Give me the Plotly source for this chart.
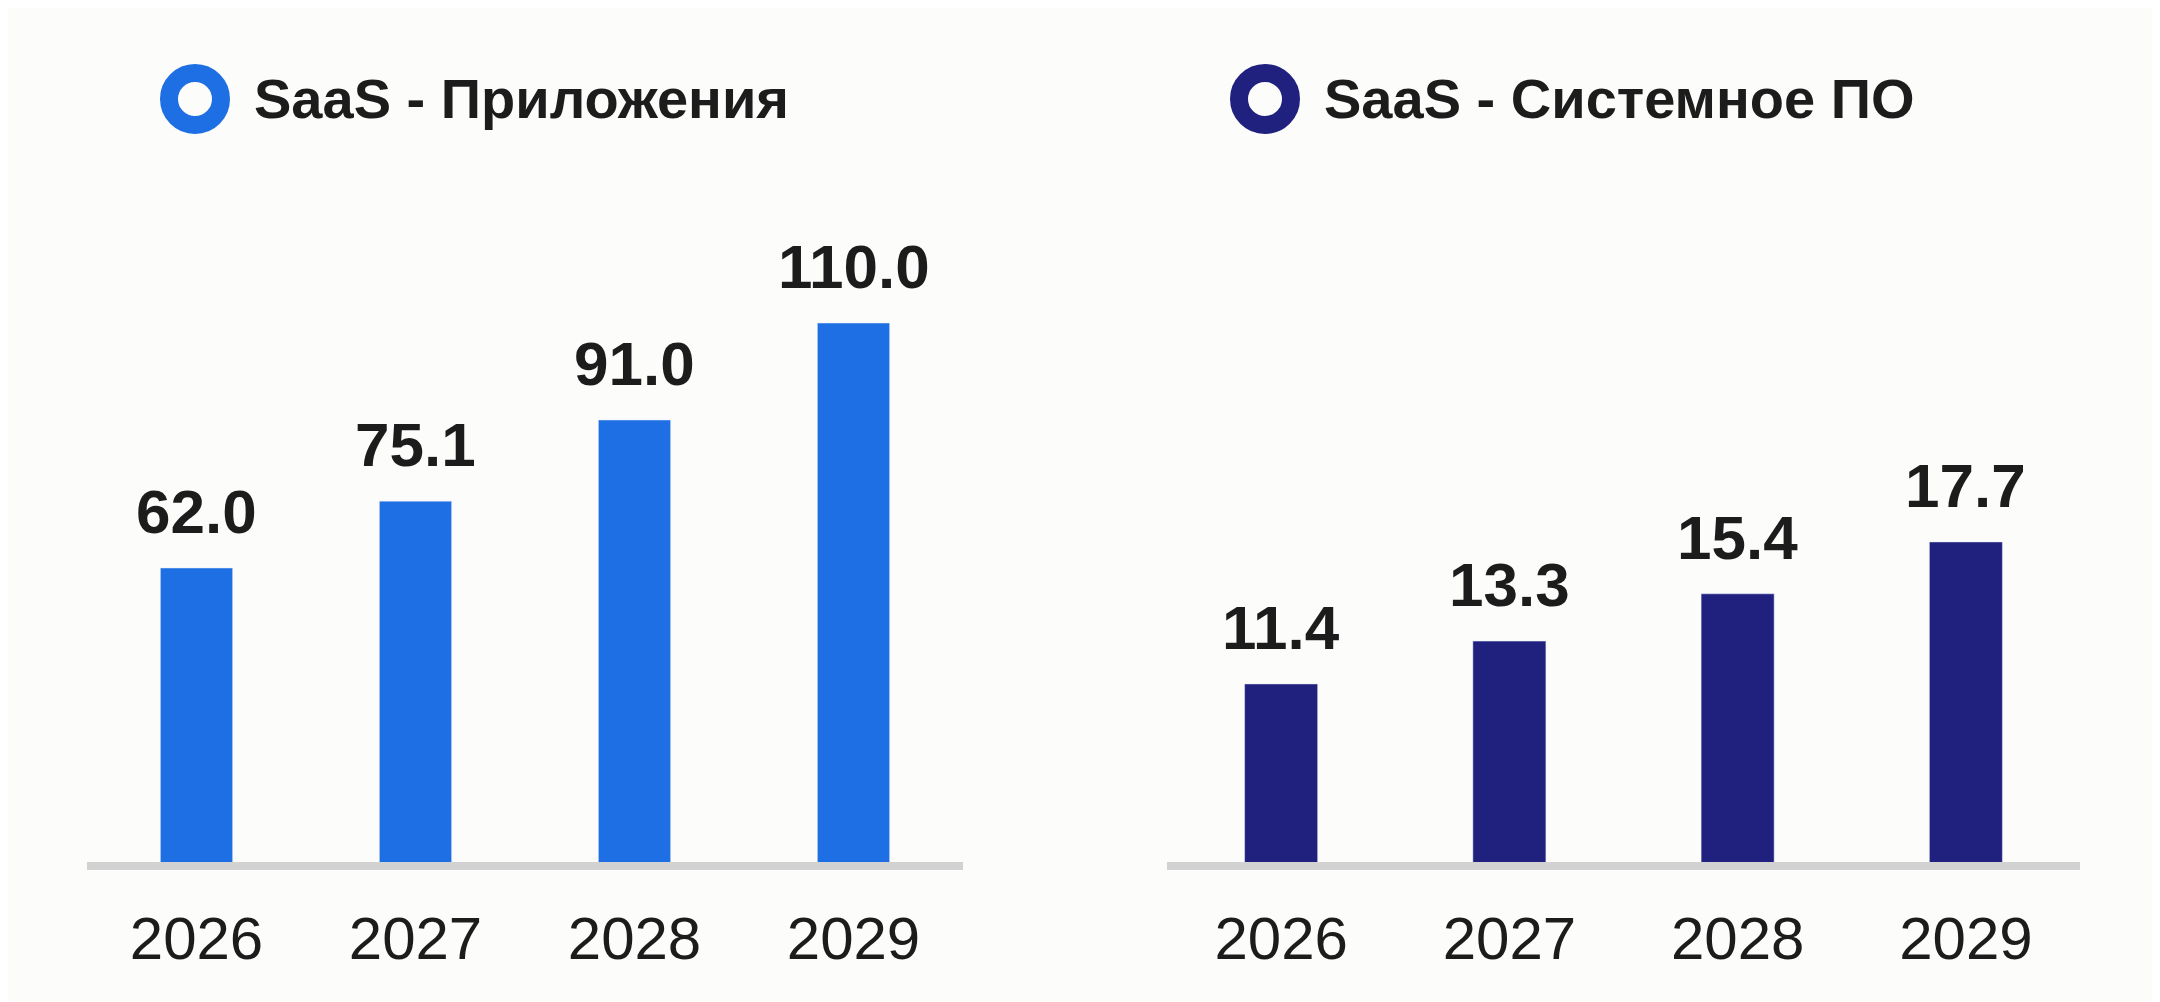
import plotly.graph_objects as go

# data
years = ["2026", "2027", "2028", "2029"]
saas_apps = [62.0, 75.1, 91.0, 110.0]
saas_sys = [11.4, 13.3, 15.4, 17.7]
series_names = ["SaaS - Приложения", "SaaS - Системное ПО"]

blue = "#1E6FE3"
navy = "#20217F"
txt = "#1c1c1c"
bg = "#fcfcfa"
font_fam = "Liberation Sans, Arial, sans-serif"

# page has an 8px body margin, so the figure is a bit smaller and shifted
OFF = 8
W, H = 2160 - OFF, 1002 - OFF


def px(x):
    return (x - OFF) / W


def py(y):
    return 1 - (y - OFF) / H


fig = go.Figure()
fig.add_trace(go.Bar(x=years, y=saas_apps, marker_color=blue, width=0.33,
                     xaxis="x", yaxis="y", showlegend=False, hoverinfo="skip"))
fig.add_trace(go.Bar(x=years, y=saas_sys, marker_color=navy, width=0.32,
                     xaxis="x2", yaxis="y2", showlegend=False, hoverinfo="skip"))

annotations = []
# value labels above bars
for xr, yref, vals in [("x", "y", saas_apps), ("x2", "y2", saas_sys)]:
    for i, v in enumerate(vals):
        annotations.append(dict(x=i, y=v, xref=xr, yref=yref, text=f"<b>{v:.1f}</b>",
                                showarrow=False, yanchor="bottom", yshift=20,
                                font=dict(family=font_fam, size=62, color=txt)))

# legend-like headers
shapes = []
for cx, name, col in [(195, series_names[0], blue), (1265, series_names[1], navy)]:
    shapes.append(dict(type="circle", xref="paper", yref="paper",
                       xsizemode="pixel", ysizemode="pixel",
                       xanchor=px(cx), yanchor=py(99),
                       x0=-26, x1=26, y0=-26, y1=26,
                       line=dict(color=col, width=18), fillcolor=bg))
    annotations.append(dict(x=px(cx + 57), y=py(99), xref="paper", yref="paper",
                            text=f"<b>{name}</b>", showarrow=False,
                            xanchor="left", yanchor="middle",
                            font=dict(family=font_fam, size=56, color=txt)))

# gray baseline under each panel
for xr, yref in [("x domain", "y domain"), ("x2 domain", "y2 domain")]:
    shapes.append(dict(type="line", xref=xr, yref=yref, x0=0, x1=1,
                       y0=-0.0056, y1=-0.0056,
                       line=dict(color="#d2d2d2", width=8)))

axis_x = dict(type="category", range=[-0.5, 3.5], showgrid=False, zeroline=False,
              showline=False, ticks="", ticklabelstandoff=36,
              tickfont=dict(family=font_fam, size=60, color=txt))
axis_y = dict(showgrid=False, zeroline=False, showline=False, showticklabels=False,
              ticks="", domain=[py(862), py(150)])

fig.update_layout(
    width=W, height=H,
    margin=dict(l=0, r=0, t=0, b=0),
    paper_bgcolor=bg, plot_bgcolor=bg,
    xaxis=dict(axis_x, domain=[px(87), px(963)], anchor="y"),
    xaxis2=dict(axis_x, domain=[px(1167), px(2080)], anchor="y2"),
    yaxis=dict(axis_y, range=[4.4, 143.9], anchor="x"),
    yaxis2=dict(axis_y, range=[3.5, 35.09], anchor="x2"),
    annotations=annotations,
    shapes=shapes,
)

fig.write_html("out.html")
